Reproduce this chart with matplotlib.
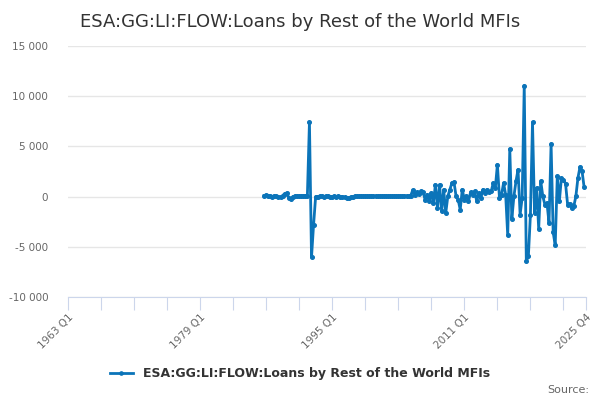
import numpy as np
import matplotlib.pyplot as plt

title = "ESA:GG:LI:FLOW:Loans by Rest of the World MFIs"
first_year, last_year = 1963, 2025
quarters = [f"{y} Q{q}" for y in range(first_year, last_year + 1) for q in range(1, 5)]

# series starts at 1986 Q4
start_label = "1986 Q4"

early = [100, 150, 50, 80, 0, 50, 30, 0, -50, 100, 300, 350, -100, -250, 0, 50,
         50, 30, 50, 80, 100, 100]
spike = [7400, -6050, -2800, 0]
flat = [0, 30, 20, 0, 10, 30, 0, -20, 20, 0, 10, -30, 0, -80, -100, -120,
        -60, 0, 30, 20, 40, 50, 30, 40, 50, 40, 60, 40, 50, 30, 50, 40,
        50, 60, 40, 50, 30, 50, 40, 60, 50, 40, 60, 50, 40, 80]
mid = [630, 200, 430, 300, 530, 430, -300, 200, -470, 370, -630, 1200, -1130, 1200,
       -1470, 700, -1630, 30, 700, 1370, 1430, 30, -300, -1300, 700, -300, 30, -470,
       430, 200, 530, -470, 370, -130, 700, 370, 700, 430]
late = [530, 1360, 860, 3190, -130, 200, 1360, 200, -3850, 4750, -2220, 30, 1530,
        2690, -1790, -130, 11050, -6440, -5940, -1790, 7400, -1630, 860, -3190, 1530,
        30, -800, -630, -2620, 5250, -3550, -4850, 2020, -470, 1860, 1690, 1290, -800,
        -700, -1130, -960, 30, 1860, 2960, 2520, 930]

values = early + spike + flat + mid + late
start = quarters.index(start_label)
x = np.arange(start, start + len(values))

color = "#0b74b9"

fig = plt.figure(figsize=(6, 4), dpi=100)
ax = fig.add_axes([0.113, 0.2575, 0.864, 0.6275])
ax.plot(x, values, color=color, lw=2, marker="o", ms=2.6, label=title)

ax.set_xlim(0, len(quarters) - 1)
ax.set_ylim(-10000, 15000)
yt = np.arange(-10000, 15001, 5000)
ax.set_yticks(yt)
ax.set_yticklabels([f"{v:,}".replace(",", " ") for v in yt], color="#666666", fontsize=7.5)
ax.yaxis.grid(True, color="#e6e6e6", lw=1)
ax.set_axisbelow(True)
ax.tick_params(axis="y", length=0, pad=14)

last = len(quarters) - 1
xt = list(range(0, last, 16)) + [last]
ax.set_xticks(xt)
ax.set_xticklabels([quarters[i] if i % 64 == 0 or i == last else "" for i in xt])
ax.tick_params(axis="x", length=9, color="#ccd6eb", pad=2, labelcolor="#666666",
               labelsize=7.5)
for lab in ax.get_xticklabels():
    lab.set_rotation(45)
    lab.set_ha("right")
    lab.set_rotation_mode("anchor")

for s in ["top", "right", "left"]:
    ax.spines[s].set_visible(False)
ax.spines["bottom"].set_color("#ccd6eb")

fig.text(0.5, 0.945, title, ha="center", va="center", fontsize=13, color="#333333")
leg = fig.legend(loc="center", bbox_to_anchor=(0.5, 0.065), frameon=False,
                 prop={"weight": "bold", "size": 9}, handlelength=1.8, markerscale=0.9)
for t in leg.get_texts():
    t.set_color("#333333")
fig.text(0.982, 0.025, "Source:", ha="right", va="center", fontsize=8, color="#666666")

fig.savefig("out.png", dpi=100)
